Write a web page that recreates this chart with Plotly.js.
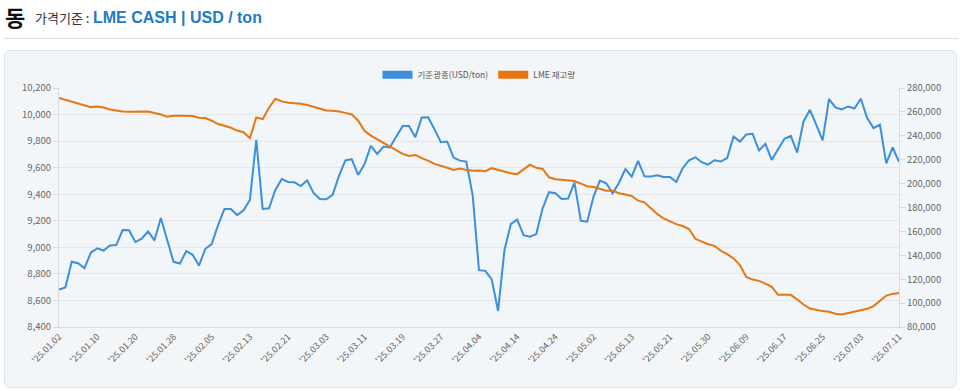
<!DOCTYPE html>
<html>
<head>
<meta charset="utf-8">
<script src="https://cdn.plot.ly/plotly-3.0.1.min.js"></script>
<style>
  html, body { margin:0; padding:0; width:960px; height:391px; overflow:hidden; background:#ffffff; font-family:"Noto Sans CJK KR","Noto Sans",sans-serif; }
  #head { position:absolute; left:4px; top:0; height:38px; width:954px; border-bottom:1px solid #dcdcdc; }
  #head .big { position:absolute; left:1px; top:2px; font-size:22px; font-weight:700; color:#111; line-height:28px; }
  #head .lbl { position:absolute; left:31px; top:9px; font-size:13px; color:#333; line-height:18px; }
  #head .val { position:absolute; left:89px; top:7px; font-size:16px; font-weight:700; color:#1c7cc6; line-height:22px; font-family:"Liberation Sans","Noto Sans",sans-serif; }
  #panel { position:absolute; left:4px; top:50px; width:953px; height:338px; background:#f3f6f9; border:1px solid #e2e6ea; border-radius:6px; box-sizing:border-box; }
  #chart { position:absolute; left:0; top:0; width:960px; height:391px; }
</style>
</head>
<body>
<div id="head"><span class="big">동</span><span class="lbl">가격기준 :</span><span class="val">LME CASH | USD / ton</span></div>
<div id="panel"></div>
<div id="chart"></div>
<script>
const seriesNames = ["기준광종(USD/ton)", "LME 재고량"];

const dates = [
"'25.01.02","'25.01.03","'25.01.06","'25.01.07","'25.01.08","'25.01.09","'25.01.10","'25.01.13","'25.01.14","'25.01.15",
"'25.01.16","'25.01.17","'25.01.20","'25.01.21","'25.01.22","'25.01.23","'25.01.24","'25.01.27","'25.01.28","'25.01.29",
"'25.01.30","'25.01.31","'25.02.03","'25.02.04","'25.02.05","'25.02.06","'25.02.07","'25.02.10","'25.02.11","'25.02.12",
"'25.02.13","'25.02.14","'25.02.17","'25.02.18","'25.02.19","'25.02.20","'25.02.21","'25.02.24","'25.02.25","'25.02.26",
"'25.02.27","'25.02.28","'25.03.03","'25.03.04","'25.03.05","'25.03.06","'25.03.07","'25.03.10","'25.03.11","'25.03.12",
"'25.03.13","'25.03.14","'25.03.17","'25.03.18","'25.03.19","'25.03.20","'25.03.21","'25.03.24","'25.03.25","'25.03.26",
"'25.03.27","'25.03.28","'25.03.31","'25.04.01","'25.04.02","'25.04.03","'25.04.04","'25.04.07","'25.04.08","'25.04.09",
"'25.04.10","'25.04.11","'25.04.14","'25.04.15","'25.04.16","'25.04.17","'25.04.22","'25.04.23","'25.04.24","'25.04.25",
"'25.04.28","'25.04.29","'25.04.30","'25.05.01","'25.05.02","'25.05.06","'25.05.07","'25.05.08","'25.05.09","'25.05.12",
"'25.05.13","'25.05.14","'25.05.15","'25.05.16","'25.05.19","'25.05.20","'25.05.21","'25.05.22","'25.05.23","'25.05.27",
"'25.05.28","'25.05.29","'25.05.30","'25.06.02","'25.06.03","'25.06.04","'25.06.05","'25.06.06","'25.06.09","'25.06.10",
"'25.06.11","'25.06.12","'25.06.13","'25.06.16","'25.06.17","'25.06.18","'25.06.19","'25.06.20","'25.06.23","'25.06.24",
"'25.06.25","'25.06.26","'25.06.27","'25.06.30","'25.07.01","'25.07.02","'25.07.03","'25.07.04","'25.07.07","'25.07.08",
"'25.07.09","'25.07.10","'25.07.11"
];

const price = [
8682,8698,8891,8880,8843,8959,8992,8976,9014,9017,
9130,9128,9040,9065,9120,9052,9221,9055,8891,8878,
8972,8944,8863,8989,9024,9168,9289,9289,9243,9279,
9357,9810,9289,9294,9432,9515,9492,9490,9462,9505,
9410,9364,9362,9395,9538,9655,9664,9545,9626,9764,
9704,9759,9752,9835,9913,9913,9830,9978,9980,9890,
9792,9797,9676,9653,9646,9394,8828,8823,8758,8521,
8979,9175,9210,9092,9080,9100,9294,9415,9407,9364,
9367,9487,9201,9193,9382,9503,9482,9407,9487,9590,
9533,9651,9535,9533,9543,9530,9530,9492,9595,9656,
9678,9641,9623,9656,9646,9673,9835,9797,9850,9855,
9729,9779,9658,9739,9817,9840,9714,9948,10036,9923,
9805,10117,10054,10039,10061,10046,10119,9973,9898,9925,
9633,9752,9643
];

const stock = [
271600,270200,268800,267400,265700,264000,264500,263700,262000,260900,
260400,260100,260100,260400,260400,259000,257900,255900,256800,256800,
256500,256500,255100,254800,252600,249800,248400,246800,244400,243000,
238000,255300,253900,263500,271000,268800,267600,267400,266800,265700,
264000,262600,261200,260900,260400,259200,257900,252800,244200,240200,
237100,233800,230400,227400,224900,223200,224000,221300,219300,216500,
215100,213200,211500,212600,211500,210700,211000,210400,212900,211500,
209600,208700,207900,212100,215900,213200,212300,205300,203600,203300,
202700,202200,200000,197800,197200,195800,194100,194100,191900,190800,
189700,185700,184300,179300,174500,170900,168400,166100,164500,162000,
153800,151600,149300,147900,143800,141000,137400,131800,121900,119700,
118600,116300,113600,106900,106900,106900,103000,98800,95500,94100,
93300,92700,91100,90500,91600,93300,94400,95200,97500,101700,
106300,107700,108500
];

const blue = '#3a8fdf';
const orange = '#e8760f';
const tickVals = dates.filter((d, i) => i % 6 === 0);

const fontFam = '"Noto Sans CJK KR", "Noto Sans", sans-serif';

const traces = [
  { x: dates, y: price, type: 'scatter', mode: 'lines', name: seriesNames[0], yaxis: 'y',
    line: { color: blue, width: 2 }, showlegend: false },
  { x: dates, y: stock, type: 'scatter', mode: 'lines', name: seriesNames[1], yaxis: 'y2',
    line: { color: orange, width: 2 }, showlegend: false },
  { x: [null], y: [null], type: 'scatter', mode: 'lines', name: seriesNames[0],
    line: { color: blue, width: 8 }, showlegend: true },
  { x: [null], y: [null], type: 'scatter', mode: 'lines', name: seriesNames[1],
    line: { color: orange, width: 8 }, showlegend: true }
];

const layout = {
  width: 960, height: 391,
  margin: { l: 59, r: 61, t: 88, b: 64, pad: 0 },
  paper_bgcolor: 'rgba(0,0,0,0)',
  plot_bgcolor: 'rgba(0,0,0,0)',
  font: { family: fontFam, size: 9.5, color: '#666' },
  showlegend: true,
  legend: { orientation: 'h', x: 0.5, xanchor: 'center', y: 1.055, yanchor: 'middle',
            font: { size: 8.5, color: '#555' }, itemwidth: 30, bgcolor: 'rgba(0,0,0,0)', traceorder: 'normal' },
  xaxis: {
    type: 'category', range: [0, dates.length - 1],
    tickmode: 'array', tickvals: tickVals, ticktext: tickVals,
    tickangle: -45, tickfont: { size: 9, color: '#666' },
    showgrid: false, showline: true, linecolor: '#d8dce0', linewidth: 1,
    ticks: '', zeroline: false, automargin: false
  },
  yaxis: {
    range: [8400, 10200], dtick: 200, tickformat: ',d',
    showgrid: true, gridcolor: '#e3e7eb', gridwidth: 1,
    showline: true, linecolor: '#d8dce0', linewidth: 1,
    ticks: 'outside', ticklen: 5, tickcolor: '#d8dce0',
    tickfont: { size: 9.5, color: '#666' }, zeroline: false, automargin: false
  },
  yaxis2: {
    overlaying: 'y', side: 'right',
    range: [80000, 280000], dtick: 20000, tickformat: ',d',
    showgrid: false, showline: true, linecolor: '#d8dce0', linewidth: 1,
    ticks: 'outside', ticklen: 5, tickcolor: '#d8dce0',
    tickfont: { size: 9.5, color: '#666' }, zeroline: false, automargin: false
  }
};

Plotly.newPlot('chart', traces, layout, { staticPlot: true, displayModeBar: false });
</script>
</body>
</html>
